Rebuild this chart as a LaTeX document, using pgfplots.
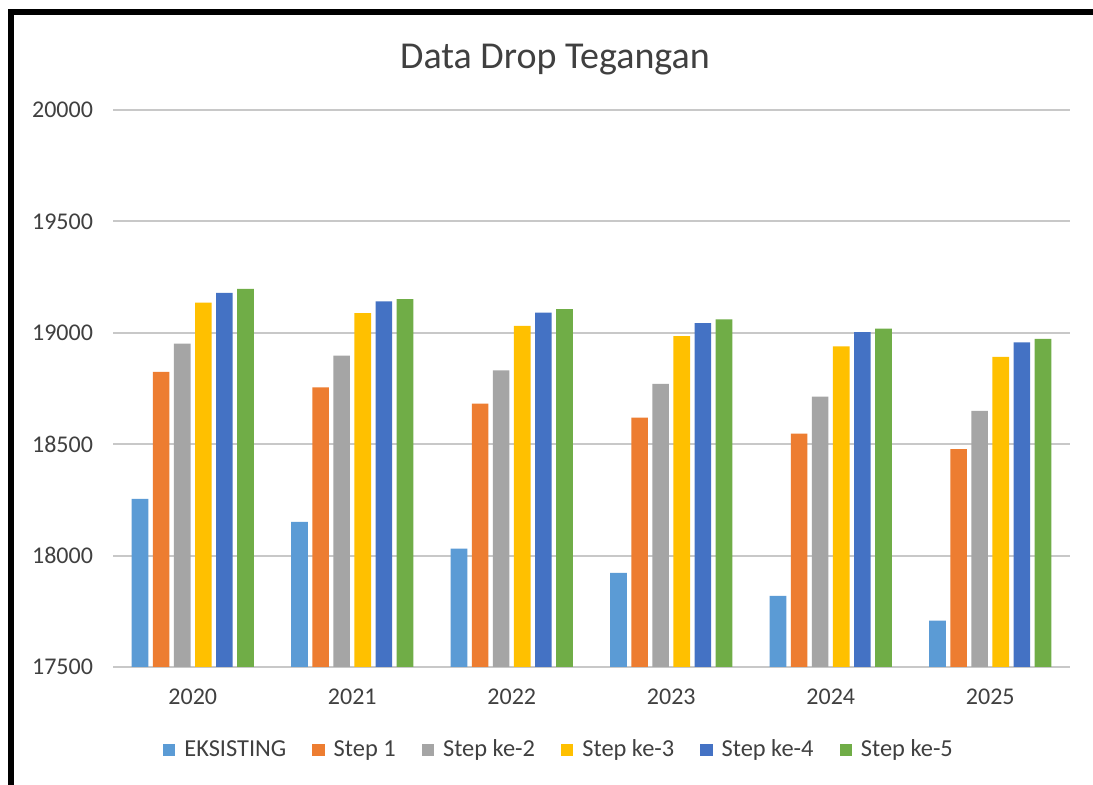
\documentclass[border=0pt]{standalone}
\usepackage{pgfplots}
\pgfplotsset{compat=1.18}
\usepackage{fontspec}
\setmainfont{Carlito}
\definecolor{cEks}{RGB}{91,155,213}
\definecolor{cS1}{RGB}{237,125,49}
\definecolor{cS2}{RGB}{165,165,165}
\definecolor{cS3}{RGB}{255,192,0}
\definecolor{cS4}{RGB}{68,114,196}
\definecolor{cS5}{RGB}{112,173,71}
\definecolor{gridc}{RGB}{200,200,200}
\definecolor{txt}{RGB}{64,64,64}
\begin{document}
\begin{tikzpicture}
\useasboundingbox (0,0) rectangle (546.5pt,392.5pt);
\fill[white] (0,0) rectangle (546.5pt,392.5pt);
\draw[line width=2.85pt, line join=miter] (5.6pt,0) -- (5.6pt,386.4pt) -- (546.5pt,386.4pt);
\node[anchor=base, inner sep=0, text=txt, font=\fontsize{19pt}{22pt}\selectfont] at (277.5pt,358pt) {Data Drop Tegangan};
\begin{axis}[
  at={(56.5pt,59pt)}, anchor=south west,
  scale only axis, width=478.5pt, height=278.5pt,
  xmin=-0.5, xmax=5.5, ymin=17500, ymax=20000,
  ytick={17500,18000,18500,19000,19500,20000},
  scaled y ticks=false,
  yticklabel={\pgfmathprintnumber[fixed,precision=0,1000 sep={}]{\tick}},
  xtick={0,1,2,3,4,5},
  xticklabels={2020,2021,2022,2023,2024,2025},
  ymajorgrids, grid style={gridc, line width=1pt},
  axis line style={draw=none},
  major tick length=0pt,
  tick style={draw=none},
  ticklabel style={font=\fontsize{12pt}{14pt}\selectfont, text=txt},
  /pgf/number format/assume math mode=true,
  /pgf/number format/1000 sep={},
  yticklabel style={xshift=-6.5pt},
  xticklabel style={yshift=-7.5pt},
  ybar, bar width=8.3pt, ybar=2.25pt,
  every axis plot/.append style={draw=none},
  legend columns=6,
  legend style={at={(0.467,-0.149)}, anchor=center, draw=none, fill=none,
    font=\fontsize{12.2pt}{14pt}\selectfont, text=txt,
    /tikz/every odd column/.append style={column sep=2.5pt},
    /tikz/every even column/.append style={column sep=11pt}},
  legend image code/.code={\fill[#1] (0pt,-3.1pt) rectangle (6.2pt,3.1pt);},
]
\addplot[fill=cEks] coordinates {(0,18254) (1,18151) (2,18031) (3,17922) (4,17819) (5,17708)};
\addplot[fill=cS1] coordinates {(0,18825) (1,18755) (2,18682) (3,18619) (4,18547) (5,18478)};
\addplot[fill=cS2] coordinates {(0,18951) (1,18898) (2,18831) (3,18771) (4,18714) (5,18650)};
\addplot[fill=cS3] coordinates {(0,19135) (1,19088) (2,19031) (3,18985) (4,18939) (5,18892)};
\addplot[fill=cS4] coordinates {(0,19179) (1,19141) (2,19090) (3,19043) (4,19003) (5,18957)};
\addplot[fill=cS5] coordinates {(0,19197) (1,19151) (2,19106) (3,19060) (4,19019) (5,18973)};
\legend{EKSISTING, Step 1, Step ke-2, Step ke-3, Step ke-4, Step ke-5}
\end{axis}
\end{tikzpicture}
\end{document}
